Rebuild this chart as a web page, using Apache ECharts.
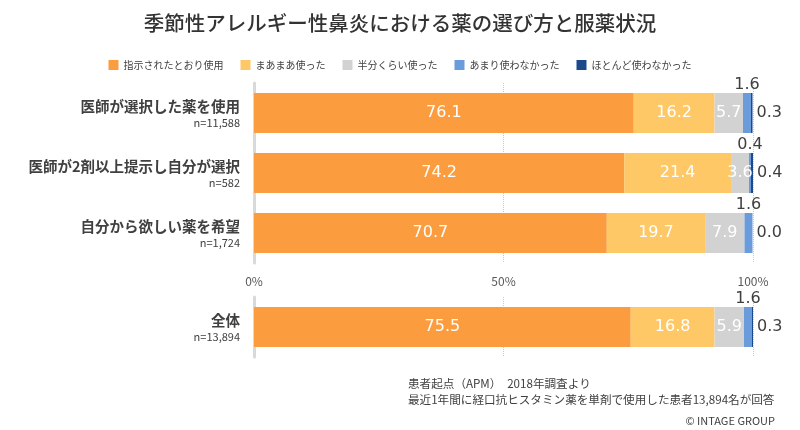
<!DOCTYPE html>
<html>
<head>
<meta charset="utf-8">
<script src="https://cdn.jsdelivr.net/npm/echarts@6/dist/echarts.min.js"></script>
<style>
html,body{margin:0;padding:0;background:#fff;}
#c{width:800px;height:430px;}
</style>
</head>
<body>
<div id="c"></div>
<script>
const titleText = '季節性アレルギー性鼻炎における薬の選び方と服薬状況';
const seriesNames = ['指示されたとおり使用','まあまあ使った','半分くらい使った','あまり使わなかった','ほとんど使わなかった'];
const categories = ['医師が選択した薬を使用','医師が2剤以上提示し自分が選択','自分から欲しい薬を希望'];
const categoryN = ['n=11,588','n=582','n=1,724'];
const totalCategory = ['全体'];
const totalN = ['n=13,894'];
const asDirected = [76.1, 74.2, 70.7];
const fairlyUsed = [16.2, 21.4, 19.7];
const halfUsed = [5.7, 3.6, 7.9];
const rarelyUsed = [1.6, 0.4, 1.6];
const hardlyUsed = [0.3, 0.4, 0.0];
const totalValues = [[75.5], [16.8], [5.9], [1.6], [0.3]];
const xTicks = [0, 50, 100];
const footnote1 = '患者起点（APM）　2018年調査より';
const footnote2 = '最近1年間に経口抗ヒスタミン薬を単剤で使用した患者13,894名が回答';
const copyright = '© INTAGE GROUP';

const colors = ['#FB9D3E', '#FEC866', '#D2D2D2', '#6A9BDB', '#1B4A8C'];
const font = '"Noto Sans CJK JP", sans-serif';
const numFont = '"DejaVu Sans", sans-serif';
const groupValues = [asDirected, fairlyUsed, halfUsed, rarelyUsed, hardlyUsed];

function labelFor(i) {
  const fmt = p => p.value.toFixed(1);
  const base = {show: true, fontSize: 16, fontFamily: numFont, formatter: fmt};
  if (i < 3) return Object.assign(base, {position: 'inside', color: '#fff'});
  if (i === 3) return Object.assign(base, {position: 'top', distance: 0, color: '#404040'});
  return Object.assign(base, {position: 'right', distance: 4, color: '#404040'});
}

const series = [];
seriesNames.forEach((name, i) => {
  series.push({
    name, type: 'bar', stack: 'a', xAxisIndex: 0, yAxisIndex: 0,
    barWidth: 40, itemStyle: {color: colors[i]}, label: labelFor(i),
    data: groupValues[i]
  });
  series.push({
    name, type: 'bar', stack: 'b', xAxisIndex: 1, yAxisIndex: 1,
    barWidth: 40, itemStyle: {color: colors[i]}, label: labelFor(i),
    data: totalValues[i]
  });
});

function yAxisFor(idx, cats, ns) {
  return {
    type: 'category', gridIndex: idx, inverse: true, data: cats,
    axisTick: {show: false},
    axisLine: {show: true, lineStyle: {color: '#D9D9D9', width: 3}},
    axisLabel: {
      margin: 14,
      formatter: (v, i) => '{a|' + v + '}\n{b|' + ns[i] + '}',
      rich: {
        a: {fontSize: 14.5, fontWeight: 600, color: '#404040', fontFamily: font, align: 'right', lineHeight: 19},
        b: {fontSize: 11, color: '#404040', fontFamily: font, align: 'right', lineHeight: 13}
      }
    }
  };
}

const chart = echarts.init(document.getElementById('c'), null, {renderer: 'canvas'});
chart.setOption({
  animation: false,
  color: colors,
  title: {
    text: titleText, left: 'center', top: 8,
    textStyle: {fontSize: 20.5, fontWeight: 500, color: '#333', fontFamily: font}
  },
  legend: {
    data: seriesNames, top: 55, left: 'center', icon: 'rect',
    itemWidth: 10, itemHeight: 10, itemGap: 17,
    textStyle: {fontSize: 10, color: '#404040', fontFamily: font}
  },
  grid: [
    {left: 254, right: 47, top: 83, height: 180},
    {left: 254, right: 47, top: 297, height: 60}
  ],
  xAxis: [
    {type: 'value', gridIndex: 0, min: 0, max: 100, interval: 50,
     axisLine: {show: false}, axisTick: {show: false},
     axisLabel: {formatter: v => xTicks.includes(v) ? v + '%' : '', margin: 12, color: '#595959', fontSize: 12, fontFamily: font},
     splitLine: {show: true, lineStyle: {type: 'dotted', color: '#C8C8C8'}}},
    {type: 'value', gridIndex: 1, min: 0, max: 100, interval: 50,
     axisLine: {show: false}, axisTick: {show: false}, axisLabel: {show: false},
     splitLine: {show: true, lineStyle: {type: 'dotted', color: '#C8C8C8'}}}
  ],
  yAxis: [yAxisFor(0, categories, categoryN), yAxisFor(1, totalCategory, totalN)],
  series,
  graphic: [
    {type: 'text', left: 408, top: 376, style: {text: footnote1 + '\n' + footnote2, fill: '#404040', fontSize: 11.6, lineHeight: 16, fontFamily: font}},
    {type: 'text', right: 25, top: 415, style: {text: copyright, fill: '#404040', fontSize: 11, fontFamily: font}}
  ]
});
</script>
</body>
</html>
